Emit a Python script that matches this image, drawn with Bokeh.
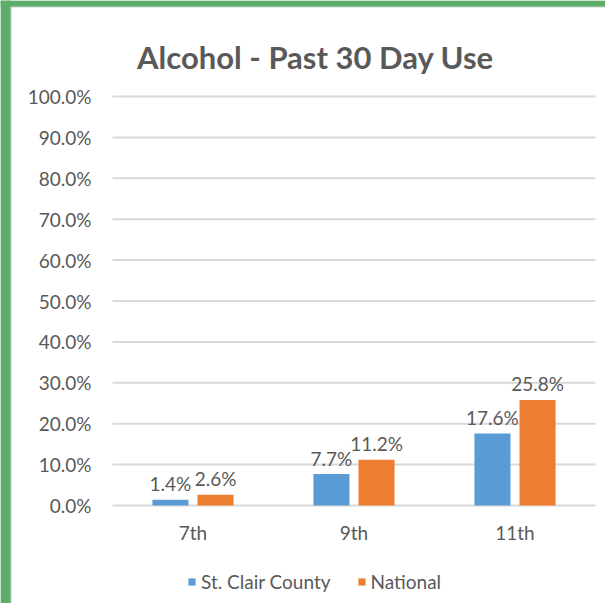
from bokeh.plotting import figure
from bokeh.models import (ColumnDataSource, Range1d, Legend, LegendItem, Label,
                          BoxAnnotation)
from bokeh.transform import dodge
from bokeh.core.properties import value
from bokeh.embed import file_html
from bokeh.resources import INLINE

# ---- data ----
grades = ["7th", "9th", "11th"]
st_clair = [0.014, 0.077, 0.176]
national = [0.026, 0.112, 0.258]
st_clair_labels = ["1.4%", "7.7%", "17.6%"]
national_labels = ["2.6%", "11.2%", "25.8%"]
series_names = ["St. Clair County", "National"]
y_ticks = [0.0, 0.1, 0.2, 0.3, 0.4, 0.5, 0.6, 0.7, 0.8, 0.9, 1.0]
y_tick_labels = ["0.0%", "10.0%", "20.0%", "30.0%", "40.0%", "50.0%",
                 "60.0%", "70.0%", "80.0%", "90.0%", "100.0%"]
title_text = "Alcohol - Past 30 Day Use"

# ---- style / layout (pixels of the figure) ----
BLUE = "#5B9BD5"
ORANGE = "#ED7D31"
TEXT = "#595959"
GRID = "#D9D9D9"
GREEN = "#5CAD68"
FONT = "Lato"
W, H = 605, 603
LEFT, RIGHT, TOP, BOTTOM = 112, 595, 96, 505
n = len(grades)
cat_w = (RIGHT - LEFT) / n
unit_h = BOTTOM - TOP  # pixels for 100%

x_range = Range1d(-LEFT / cat_w, n + (W - RIGHT) / cat_w)
y_range = Range1d(-(H - BOTTOM) / unit_h, 1 + TOP / unit_h)

src = ColumnDataSource(dict(xc=[i + 0.5 for i in range(n)], grade=grades,
                            st=st_clair, nat=national,
                            st_lbl=st_clair_labels, nat_lbl=national_labels))

p = figure(width=W, height=H, x_range=x_range, y_range=y_range,
           x_axis_location=None, y_axis_location=None,
           output_backend="svg", toolbar_location=None,
           min_border=0, min_border_left=0, min_border_right=0,
           min_border_top=0, min_border_bottom=0)
p.outline_line_color = None
p.grid.visible = False
p.background_fill_color = "white"
p.border_fill_color = "white"

# green frame of the original screenshot
p.add_layout(BoxAnnotation(right=x_range.start + 11 / cat_w, fill_color="#C9CFCA",
                           fill_alpha=1, line_color=None, level="underlay"))
p.add_layout(BoxAnnotation(bottom=y_range.end - 7 / unit_h, fill_color="#C9CFCA",
                           fill_alpha=1, line_color=None, level="underlay"))
p.add_layout(BoxAnnotation(right=x_range.start + 10 / cat_w, fill_color=GREEN,
                           fill_alpha=1, line_color=None))
p.add_layout(BoxAnnotation(bottom=y_range.end - 6 / unit_h, fill_color=GREEN,
                           fill_alpha=1, line_color=None))

# gridlines (value axis)
p.segment(x0=0, x1=n, y0=y_ticks, y1=y_ticks, line_color=GRID, line_width=2)

# y tick labels
p.text(x=0, y=y_ticks, text=y_tick_labels, x_offset=-21,
       text_align="right", text_baseline="middle",
       text_font=value(FONT), text_font_size="19px", text_color=TEXT)

# category labels
p.text(x="xc", y=0, text="grade", source=src, y_offset=27,
       text_align="center", text_baseline="middle",
       text_font=value(FONT), text_font_size="19px", text_color=TEXT)

off = 0.14
bw = 0.224
r1 = p.vbar(x=dodge("xc", -off), top="st", width=bw, source=src,
            fill_color=BLUE, line_color=None)
r2 = p.vbar(x=dodge("xc", off), top="nat", width=bw, source=src,
            fill_color=ORANGE, line_color=None)

for col, lbl, dx in (("st", "st_lbl", -off), ("nat", "nat_lbl", off)):
    p.text(x=dodge("xc", dx), y=col, text=lbl, source=src,
           text_align="center", text_baseline="alphabetic", y_offset=-16,
           text_font=value(FONT), text_font_size="19px", text_color=TEXT)

# title
p.add_layout(Label(x=(315 - LEFT) / cat_w, y=(BOTTOM - 56) / unit_h,
                   text=title_text, text_align="center", text_baseline="alphabetic",
                   text_font=FONT, text_font_style="bold", text_font_size="31px",
                   text_color=TEXT))

legend = Legend(items=[LegendItem(label=series_names[0], renderers=[r1]),
                       LegendItem(label=series_names[1], renderers=[r2])],
                orientation="horizontal", location=(187, 10),
                glyph_width=9, glyph_height=9, label_standoff=5, spacing=26,
                padding=0, margin=0, border_line_alpha=0, background_fill_alpha=0,
                label_text_font=FONT, label_text_font_size="19px",
                label_text_color=TEXT)
p.add_layout(legend)

open("out.html", "w").write(file_html(p, INLINE))
